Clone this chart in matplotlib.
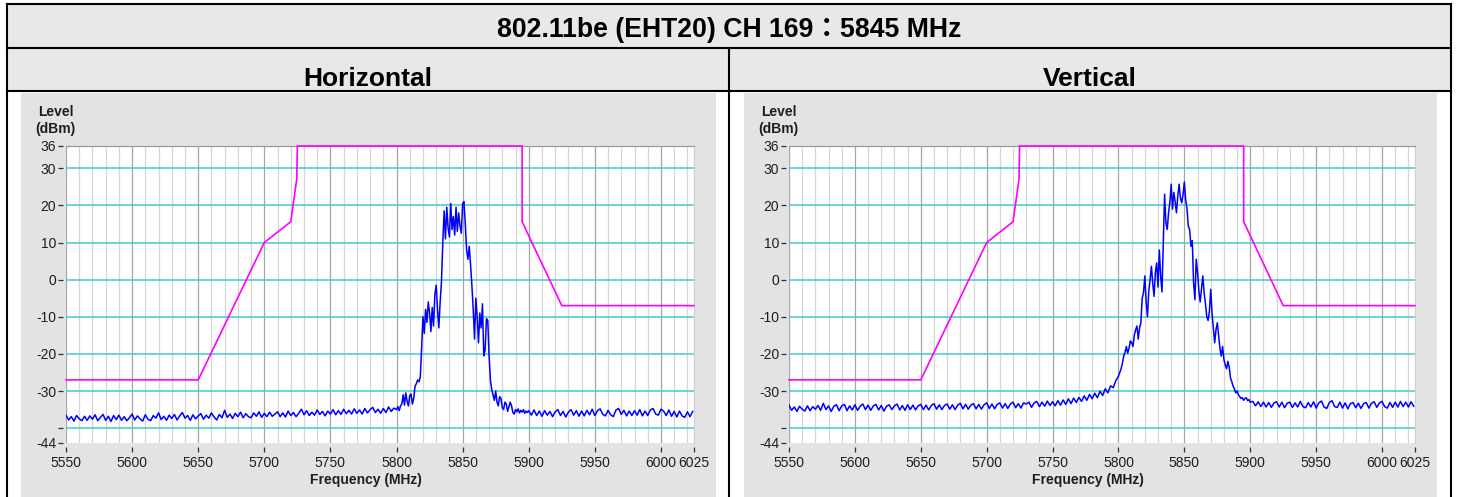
"""Spectrum plots for 802.11be (EHT20) CH 169, horizontal and vertical polarisation,
laid out like the test-report table cell."""

import numpy as np
import matplotlib
matplotlib.use('Agg')
import matplotlib.pyplot as plt
from matplotlib.patches import Rectangle

plt.rcParams['font.family'] = ['Liberation Sans', 'Noto Sans CJK TC', 'DejaVu Sans']

W, H = 1458, 497  # output size in pixels (dpi 100)

TITLE = '802.11be (EHT20) CH 169\uff1a5845 MHz'
PANELS = ['Horizontal', 'Vertical']

X_TICKS = [5550, 5600, 5650, 5700, 5750, 5800, 5850, 5900, 5950, 6000, 6025]
Y_TICKS = [36, 30, 20, 10, 0, -10, -20, -30, -40, -44]
Y_TICK_LABELS = ['36', '30', '20', '10', '0', '-10', '-20', '-30', '', '-44']
CYAN_LEVELS = [30, 20, 10, 0, -10, -20, -30, -40]

# limit line (dBm)
MASK_FREQ = [5550, 5650, 5700, 5720, 5724.5, 5725, 5895, 5895, 5925, 6025]
MASK_LEVEL = [-27, -27, 10, 15.6, 27, 36, 36, 15.6, -7, -7]

# ---- horizontal trace -------------------------------------------------------
# 5550..5798 MHz, 2 MHz steps
H_LEFT = [
    -36.5, -37.8, -36.9, -38.1, -36.6, -37.5, -38.0, -36.8, -37.9, -36.7,
    -37.6, -36.4, -38.0, -37.1, -36.3, -37.9, -36.8, -38.2, -36.6, -37.7,
    -36.5, -37.9, -36.9, -38.0, -37.2, -36.2, -37.8, -36.7, -37.5, -38.1,
    -36.4, -37.6, -38.0, -36.6, -37.3, -35.9, -37.7, -36.8, -37.9, -36.5,
    -37.4, -36.3, -37.8, -36.7, -35.8, -37.3, -36.6, -37.9, -36.4, -37.5,
    -36.7, -36.1, -37.6, -36.5, -37.3, -35.9, -37.0, -37.8, -36.3, -37.2,
    -35.2, -37.1, -36.2, -37.4, -36.0, -36.9, -35.7, -37.2, -36.1, -36.9,
    -37.2, -35.9, -36.8, -35.6, -37.1, -36.0, -36.9, -35.7, -36.8, -36.2,
    -35.6, -36.9, -35.9, -37.0, -35.4, -36.6, -35.8, -36.9, -36.0, -34.9,
    -36.4, -35.3, -36.6, -35.7, -36.5, -35.1, -36.3, -35.5, -36.7, -35.4,
    -36.2, -35.0, -36.4, -35.3, -36.3, -34.9, -36.1, -35.2, -36.2, -34.8,
    -36.0, -35.1, -36.2, -34.7, -35.9, -35.0, -34.4, -35.8, -34.9, -36.0,
    -34.7, -35.8, -34.3, -35.5, -34.6,
]
# 5800..5900 MHz, 1 MHz steps
H_CORE = [
    -35.0, -34.2, -35.3, -34.0, -33.5, -31.0, -33.8, -30.5, -32.8, -34.0,
    -31.2, -30.8, -33.5, -32.0, -28.7, -28.0, -27.0, -27.5, -26.2, -18.0,
    -10.0, -14.5, -8.0, -11.5, -6.0, -9.0, -14.0, -7.5, -12.5, -4.0,
    -1.5, -8.0, -13.0, -6.0, -0.5, 10.0, 18.5, 11.0, 19.5, 14.0,
    11.5, 20.5, 13.5, 17.0, 12.0, 19.5, 13.0, 18.0, 14.5, 12.5,
    20.5, 21.0, 15.0, 8.0, 5.5, 9.0, 4.0, -1.5, -8.0, -16.0,
    -5.0, -10.0, -17.0, -9.0, -13.0, -6.5, -20.5, -19.0, -10.5, -11.0,
    -20.5, -27.0, -29.6, -31.0, -32.5, -30.0, -33.0, -34.0, -31.5, -32.0,
    -34.5, -35.0, -33.0, -33.5, -35.5, -34.2, -33.0, -34.0, -35.8, -36.2,
    -35.0, -35.6, -34.8, -35.9, -35.2, -35.7, -35.0, -36.0, -35.4, -35.8,
    -35.3,
]
# 5902..6024 MHz, 2 MHz steps
H_RIGHT = [
    -36.5, -35.1, -36.6, -35.4, -36.8, -35.3, -36.5, -35.5, -36.9, -35.6,
    -35.0, -36.6, -35.5, -37.0, -35.7, -35.0, -36.5, -35.3, -36.8, -35.4,
    -36.7, -35.2, -36.4, -34.9, -36.6, -35.3, -34.8, -36.3, -36.7, -35.2,
    -36.4, -36.9, -35.1, -34.7, -36.3, -35.2, -36.7, -35.4, -36.6, -35.3,
    -36.5, -35.0, -36.7, -35.4, -36.6, -35.1, -34.7, -36.2, -36.5, -34.9,
    -35.4, -36.6, -35.1, -36.8, -35.5, -37.0, -35.4, -36.7, -37.1, -35.6,
    -36.9, -35.5,
]

# ---- vertical trace ---------------------------------------------------------
V_LEFT = [
    -33.8, -35.2, -34.3, -35.5, -34.1, -34.9, -35.4, -34.0, -35.3, -34.2,
    -34.9, -33.9, -35.2, -33.3, -35.0, -34.0, -35.5, -34.1, -33.7, -35.3,
    -34.0, -33.6, -35.3, -34.0, -35.1, -33.7, -35.2, -34.1, -33.5, -35.0,
    -33.8, -35.2, -34.0, -33.6, -35.1, -33.9, -35.4, -34.1, -33.7, -35.0,
    -34.0, -33.5, -35.1, -33.9, -35.2, -33.7, -35.0, -33.8, -35.1, -34.0,
    -33.6, -35.0, -33.8, -35.1, -33.9, -33.4, -34.9, -33.7, -35.0, -33.9,
    -33.5, -34.9, -33.7, -35.0, -33.8, -33.3, -34.8, -33.6, -34.9, -33.8,
    -33.4, -34.8, -33.6, -34.9, -33.7, -33.2, -34.7, -33.5, -34.8, -33.6,
    -33.2, -34.6, -33.4, -34.7, -33.5, -33.0, -34.5, -33.4, -34.6, -33.2,
    -33.5, -33.0, -34.4, -33.2, -32.8, -34.2, -33.0, -34.1, -32.7, -33.9,
    -32.9, -34.0, -32.6, -33.8, -32.4, -33.6, -32.1, -33.4, -31.9, -33.1,
    -31.7, -32.8, -31.3, -32.5, -30.9, -32.1, -30.6, -31.8, -30.1, -31.2,
    -29.4, -30.5, -28.6, -29.1, -27.2,
]
V_CORE = [
    -26.0, -25.0, -24.0, -22.5, -20.6, -19.5, -18.0, -19.8, -18.5, -16.5,
    -17.0, -18.0, -15.0, -13.5, -12.5, -16.0, -13.0, -11.6, -5.0, -3.5,
    1.0, -6.0, -10.0, -3.0, 0.0, 3.6, -1.0, -4.5, 2.0, 4.5,
    -2.0, 8.0, 1.0, -3.3, 10.0, 23.0, 15.3, 13.5, 18.0, 20.7,
    25.7, 19.0, 23.5, 21.0, 18.0, 22.5, 25.7, 22.0, 20.7, 23.0,
    26.3, 21.5, 19.0, 14.4, 13.5, 9.0, 10.5, -1.0, -5.4, 5.5,
    2.0, -3.0, -6.0, -2.5, 1.0, -3.5, -6.5, -10.0, -11.0, -8.5,
    -2.6, -9.0, -13.0, -17.0, -13.5, -11.6, -15.0, -18.5, -20.6, -18.0,
    -21.5, -23.0, -24.0, -22.0, -23.5, -26.5, -27.5, -28.7, -29.5, -30.5,
    -30.0, -31.0, -31.5, -32.0, -31.8, -32.5, -32.0, -31.8, -32.6, -32.3,
    -33.0,
]
V_RIGHT = [
    -32.8, -34.0, -32.9, -34.2, -33.0, -34.3, -33.1, -34.4, -33.2, -32.9,
    -34.3, -33.0, -34.5, -33.3, -33.0, -34.4, -33.2, -34.3, -32.8, -34.2,
    -34.5, -33.1, -34.3, -32.9, -34.6, -33.2, -32.7, -34.3, -34.7, -33.1,
    -32.6, -34.2, -34.4, -33.0, -34.6, -33.2, -34.8, -33.4, -33.1, -34.5,
    -33.3, -34.7, -33.4, -33.1, -34.6, -33.3, -32.9, -34.4, -33.2, -32.8,
    -34.2, -34.6, -33.1, -34.4, -33.0, -34.3, -32.8, -34.2, -33.0, -34.3,
    -32.9, -34.1,
]

CYAN = '#3fcccc'
GRID_LIGHT = '#d6d6d6'
GRID_DARK = '#a6a6a6'
TABLE_GRAY = '#e8e8e8'
CHART_GRAY = '#e3e3e3'
TEXT_COL = '#1e1e1e'


def build_trace(left, core, right):
    """Join the three segments (2 MHz / 1 MHz / 2 MHz spacing)."""
    freq = np.concatenate([
        5550 + 2 * np.arange(len(left)),
        5800 + np.arange(len(core)),
        5902 + 2 * np.arange(len(right)),
    ])
    return freq, np.concatenate([left, core, right])


def px_rect(x0, y0, x1, y1):
    """Pixel box (top-left origin) -> figure fraction rect."""
    return [x0 / W, 1 - y1 / H, (x1 - x0) / W, (y1 - y0) / H]


def draw_spectrum(fig, x0, x1, freq, level):
    ax = fig.add_axes(px_rect(x0, 146, x1, 443))
    ax.set_xlim(5550, 6025)
    ax.set_ylim(-44, 36)

    for f in range(5550, 6025, 10):
        dark = (f % 50 == 0)
        ax.axvline(f, color=GRID_DARK if dark else GRID_LIGHT,
                   lw=0.9, zorder=1)
    for y in CYAN_LEVELS:
        ax.axhline(y, color=CYAN, lw=1.1, zorder=2)

    ax.plot(MASK_FREQ, MASK_LEVEL, color='#ff00ff', lw=1.2, zorder=3,
            clip_on=False)
    ax.plot(freq, level, color='#0000ff', lw=1.1, zorder=4)

    ax.spines['top'].set_color('#9a9a9a')
    ax.spines['top'].set_linewidth(0.9)
    ax.spines['right'].set_color('#cfcfcf')
    ax.spines['right'].set_linewidth(0.9)
    ax.spines['left'].set_visible(False)
    ax.spines['bottom'].set_visible(False)
    ax.spines['left'].set_position(('outward', 2.2))
    ax.spines['bottom'].set_position(('outward', 2.9))

    ax.set_xticks(X_TICKS)
    ax.set_xticklabels([str(t) for t in X_TICKS])
    ax.set_yticks(Y_TICKS)
    ax.set_yticklabels(Y_TICK_LABELS)
    ax.tick_params(axis='both', direction='out', length=3.6, width=0.9,
                   color='#303030', labelsize=10, labelcolor=TEXT_COL)
    ax.tick_params(axis='x', pad=3.0)
    ax.tick_params(axis='y', pad=1.2)
    return ax


def main():
    fig = plt.figure(figsize=(W / 100, H / 100), dpi=100)

    # table background / borders, in pixel coordinates
    bg = fig.add_axes([0, 0, 1, 1])
    bg.set_xlim(0, W)
    bg.set_ylim(H, 0)
    bg.axis('off')
    bg.add_patch(Rectangle((7, 4), 1444, 87, color=TABLE_GRAY, lw=0))
    bg.add_patch(Rectangle((21, 93), 695, 404, color=CHART_GRAY, lw=0))
    bg.add_patch(Rectangle((744, 93), 693, 404, color=CHART_GRAY, lw=0))
    lw_tab = 1.5
    bg.plot([7, 1451], [4, 4], color='black', lw=lw_tab)
    bg.plot([7, 1451], [48, 48], color='black', lw=lw_tab)
    bg.plot([7, 1451], [91.3, 91.3], color='black', lw=lw_tab)
    bg.plot([7, 7], [4, H], color='black', lw=lw_tab)
    bg.plot([1450.7, 1450.7], [4, H], color='black', lw=lw_tab)
    bg.plot([729, 729], [48, H], color='black', lw=lw_tab)

    bg.text(729, 37, TITLE, ha='center', va='baseline', fontsize=19.2,
            fontweight='bold', color='black')
    bg.text(368, 86, PANELS[0], ha='center', va='baseline', fontsize=19,
            fontweight='bold', color='black')
    bg.text(1090, 86, PANELS[1], ha='center', va='baseline', fontsize=19,
            fontweight='bold', color='black')

    traces = [build_trace(H_LEFT, H_CORE, H_RIGHT),
              build_trace(V_LEFT, V_CORE, V_RIGHT)]
    boxes = [(66, 694), (789, 1415)]
    for (x0, x1), (freq, level) in zip(boxes, traces):
        draw_spectrum(fig, x0, x1, freq, level)
        bg.text(x0 - 28, 116, 'Level', ha='left', va='baseline',
                fontsize=10, fontweight='bold', color=TEXT_COL)
        bg.text(x0 - 31, 132.5, '(dBm)', ha='left', va='baseline',
                fontsize=10, fontweight='bold', color=TEXT_COL)
        bg.text((x0 + x1) / 2 - 14.5, 484, 'Frequency (MHz)', ha='center',
                va='baseline', fontsize=10, fontweight='bold', color=TEXT_COL)

    fig.savefig('out.png', dpi=100)
    plt.close(fig)


if __name__ == '__main__':
    main()
